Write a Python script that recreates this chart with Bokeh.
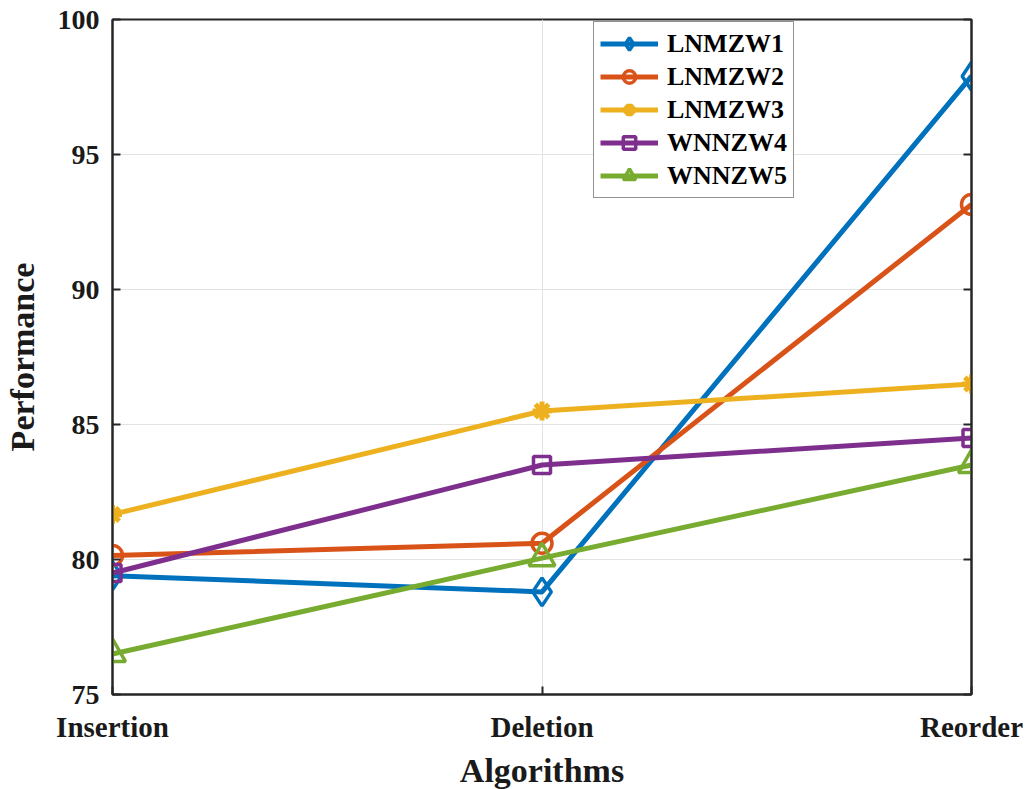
from bokeh.plotting import figure
from bokeh.models import Range1d, FixedTicker, LinearAxis, Legend, LegendItem
from bokeh.embed import file_html
from bokeh.resources import INLINE

categories = ["Insertion", "Deletion", "Reorder"]
x_pos = [1, 2, 3]
series_names = ["LNMZW1", "LNMZW2", "LNMZW3", "WNNZW4", "WNNZW5"]
lnmzw1 = [79.4, 78.8, 97.9]
lnmzw2 = [80.15, 80.6, 93.15]
lnmzw3 = [81.67, 85.5, 86.5]
wnnzw4 = [79.5, 83.5, 84.5]
wnnzw5 = [76.5, 80.05, 83.5]
y_ticks = [75, 80, 85, 90, 95, 100]

series_values = [lnmzw1, lnmzw2, lnmzw3, wnnzw4, wnnzw5]
colors = ["#0072BD", "#D95319", "#EDB120", "#7E2F8E", "#77AC30"]
markers = ["diamond", "circle", "asterisk", "square", "triangle"]
msizes = [28, 20, 19, 17, 26]

FONT = "Liberation Serif"
TXT = "#1a1a1a"

p = figure(frame_width=859, frame_height=675,
           min_border_left=111, min_border_top=19, min_border_right=52, min_border_bottom=90,
           x_range=Range1d(1, 3), y_range=Range1d(75, 100),
           output_backend="svg", toolbar_location=None, tools="")

p.outline_line_color = "#262626"
p.outline_line_width = 2
p.background_fill_color = "white"
p.border_fill_color = "white"

# y axis
ya = p.yaxis[0]
ya.ticker = FixedTicker(ticks=y_ticks)
ya.major_tick_in = 8
ya.major_tick_out = 0
ya.minor_tick_line_color = None
ya.axis_line_width = 2
ya.axis_line_color = "#262626"
ya.major_tick_line_width = 2
ya.major_tick_line_color = "#262626"
ya.major_label_text_font = FONT
ya.major_label_text_font_style = "bold"
ya.major_label_text_font_size = "28px"
ya.major_label_text_color = TXT
ya.major_label_standoff = 13
ya.axis_label = "Performance"
ya.axis_label_text_font = FONT
ya.axis_label_text_font_style = "bold"
ya.axis_label_text_font_size = "34px"
ya.axis_label_text_color = TXT
ya.axis_label_standoff = 14

# x axis
xa = p.xaxis[0]
xa.ticker = FixedTicker(ticks=x_pos)
xa.major_label_overrides = {x: c for x, c in zip(x_pos, categories)}
xa.major_tick_in = 8
xa.major_tick_out = 0
xa.minor_tick_line_color = None
xa.axis_line_width = 2
xa.axis_line_color = "#262626"
xa.major_tick_line_width = 2
xa.major_tick_line_color = "#262626"
xa.major_label_text_font = FONT
xa.major_label_text_font_style = "bold"
xa.major_label_text_font_size = "29px"
xa.major_label_text_color = TXT
xa.major_label_standoff = 16
xa.axis_label = "Algorithms"
xa.axis_label_text_font = FONT
xa.axis_label_text_font_style = "bold"
xa.axis_label_text_font_size = "34px"
xa.axis_label_text_color = TXT
xa.axis_label_standoff = 6

# right axis with inward ticks
ra = LinearAxis(ticker=FixedTicker(ticks=y_ticks))
ra.major_tick_in = 8
ra.major_tick_out = 0
ra.minor_tick_line_color = None
ra.axis_line_width = 2
ra.axis_line_color = "#262626"
ra.major_tick_line_width = 2
ra.major_tick_line_color = "#262626"
ra.major_label_overrides = {t: "" for t in y_ticks}
ra.major_label_standoff = 0
p.add_layout(ra, "right")

# grid
p.ygrid[0].ticker = FixedTicker(ticks=y_ticks)
p.ygrid[0].grid_line_color = "#e3e3e3"
p.ygrid[0].grid_line_width = 1
p.xgrid[0].ticker = FixedTicker(ticks=x_pos)
p.xgrid[0].grid_line_color = "#e3e3e3"
p.xgrid[0].grid_line_width = 1

items = []
for name, vals, c, m, s in zip(series_names, series_values, colors, markers, msizes):
    l = p.line(x_pos, vals, line_color=c, line_width=5)
    sc = p.scatter(x_pos, vals, marker=m, size=s, line_color=c,
                   line_width=5 if m == "asterisk" else 3.5,
                   fill_color=c if m == "asterisk" else "white", fill_alpha=1 if m == "asterisk" else 0)
    items.append(LegendItem(label=name, renderers=[l, sc]))

legend = Legend(items=items, location=(481, 496))
legend.label_text_font = FONT
legend.label_text_font_style = "bold"
legend.label_text_font_size = "26px"
legend.label_text_color = "black"
legend.glyph_width = 58
legend.glyph_height = 31
legend.label_height = 31
legend.spacing = 2
legend.padding = 6
legend.margin = 0
legend.label_standoff = 9
legend.border_line_color = "#262626"
legend.border_line_width = 1.5
legend.background_fill_color = "white"
legend.background_fill_alpha = 1
p.add_layout(legend, "center")

open("out.html", "w").write(file_html(p, INLINE))
